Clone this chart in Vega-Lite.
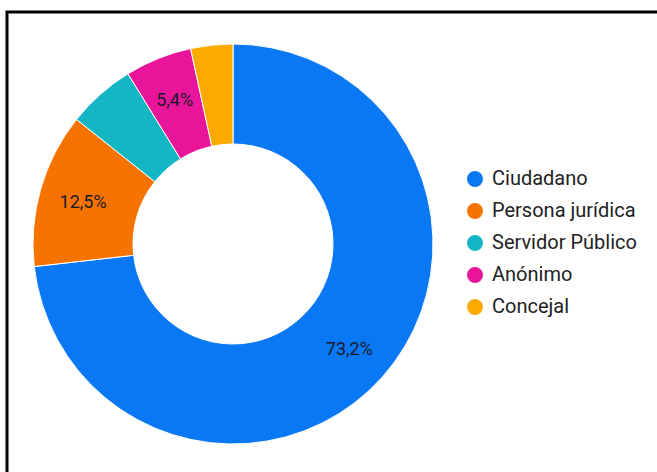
{
  "$schema": "https://vega.github.io/schema/vega-lite/v6.json",
  "autosize": "none",
  "width": 700,
  "height": 520,
  "padding": {"left": 7, "top": 12, "right": 0, "bottom": 0},
  "background": "white",
  "view": {"stroke": "black", "strokeWidth": 3},
  "config": {
    "view": {"stroke": "black", "strokeWidth": 3},
    "font": "Roboto"
  },
  "data": {
    "values": [
      {"categoria": "Ciudadano", "valor": 73.2, "etiqueta": "73,2%"},
      {"categoria": "Persona jurídica", "valor": 12.5, "etiqueta": "12,5%"},
      {"categoria": "Servidor Público", "valor": 5.5, "etiqueta": ""},
      {"categoria": "Anónimo", "valor": 5.4, "etiqueta": "5,4%"},
      {"categoria": "Concejal", "valor": 3.4, "etiqueta": ""}
    ]
  },
  "encoding": {
    "theta": {"field": "valor", "type": "quantitative", "stack": true},
    "order": {"field": "valor", "type": "quantitative", "sort": "descending"}
  },
  "layer": [
    {
      "mark": {"type": "arc", "x": 226, "y": 232, "outerRadius": 200, "innerRadius": 100, "stroke": "white", "strokeWidth": 1},
      "encoding": {
        "color": {
          "field": "categoria",
          "type": "nominal",
          "sort": ["Ciudadano", "Persona jurídica", "Servidor Público", "Anónimo", "Concejal"],
          "scale": {
            "domain": ["Ciudadano", "Persona jurídica", "Servidor Público", "Anónimo", "Concejal"],
            "range": ["#0a78f5", "#f77300", "#14b6c4", "#e8149a", "#fcaa00"]
          },
          "legend": {
            "orient": "none",
            "legendX": 458,
            "legendY": 157,
            "title": null,
            "symbolType": "circle",
            "symbolSize": 254,
            "symbolStrokeWidth": 0,
            "labelFontSize": 20,
            "labelFont": "Roboto",
            "labelColor": "#222222",
            "labelOffset": 7,
            "rowPadding": 12,
            "padding": 0
          }
        }
      }
    },
    {
      "mark": {"type": "text", "x": 226, "y": 232, "radius": 156, "dy": 2, "fontSize": 18, "font": "Roboto", "color": "#1a1a2a"},
      "encoding": {
        "text": {"field": "etiqueta", "type": "nominal"}
      }
    }
  ]
}
